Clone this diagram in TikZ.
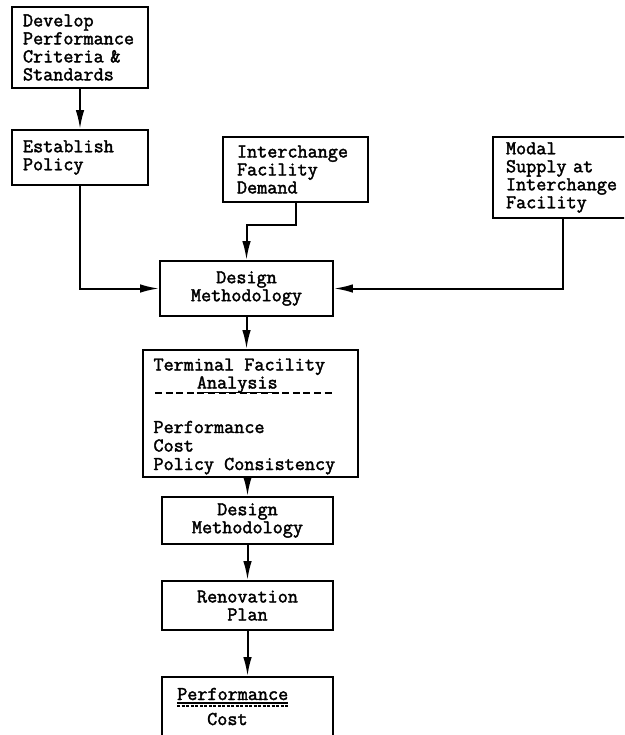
\documentclass[tikz,border=0pt]{standalone}
\usepackage{fontspec}
\setmonofont{Latin Modern Mono}[FakeBold=2]
\usetikzlibrary{arrows.meta}
\begin{document}
\begin{tikzpicture}[x=1pt,y=-1pt,
  box/.style={draw, line width=1.8pt, inner ysep=0pt},
  txt/.style={font=\ttfamily\fontsize{19.6pt}{18pt}\selectfont},
  lbox/.style={box, txt, align=left},
  cbox/.style={box, txt, align=center, inner xsep=0pt},
  line/.style={inner sep=0pt, txt, anchor=base west},
  arr/.style={line width=2pt, -{Latex[length=19pt,width=8.5pt]}},
  dashu/.style={line width=1.2pt, dash pattern=on 7pt off 3.6pt},
]
\clip (0,0) rectangle (624,735);
\fill[white] (0,0) rectangle (624,735);

% left-aligned boxes
\node[lbox, minimum width=136pt, minimum height=81pt, text width=114pt, inner xsep=11pt] (A) at (80,47.5)
  {Develop\\Performance\\Criteria \&\\Standards};
\node[lbox, minimum width=136pt, minimum height=55pt, text width=114pt, inner xsep=11pt] (B) at (80,157.5)
  {Establish\\Policy};
\node[lbox, minimum width=145pt, minimum height=65pt, text width=117pt, inner xsep=14pt] (C) at (295.5,169.5)
  {Interchange\\Facility\\Demand};
\node[lbox, minimum width=140pt, minimum height=81pt, text width=114pt, inner xsep=13pt] (D) at (563,177.5)
  {Modal\\Supply at\\Interchange\\Facility};

% centred boxes
\node[cbox, minimum width=173pt, minimum height=55pt] (DM1) at (246.5,288.5) {Design\\Methodology};
\node[box, minimum width=215pt, minimum height=127pt] (TFA) at (250.5,413.5) {};
\node[cbox, minimum width=171pt, minimum height=47pt] (DM2) at (247.5,520.5) {Design\\Methodology};
\node[cbox, minimum width=171pt, minimum height=49pt] (RP) at (247.5,605.5) {Renovation\\Plan};
\node[box, minimum width=171pt, minimum height=100pt] (PC) at (247.5,727) {};

% text of the analysis box
\node[line] (t1) at (153.3,370.5) {Terminal Facility};
\node[line] (t2) at (196.7,388.5) {Analysis};
\node[line] (t3) at (153.3,433) {Performance};
\node[line] (t4) at (153.3,451.5) {Cost};
\node[line] (t5) at (153.3,470) {Policy Consistency};
\draw[dashu] (155,393) -- (333,393);
\draw[line width=1.2pt] ([yshift=-4pt]t2.base west) -- ([yshift=-4pt]t2.base east);

% text of the last box
\node[line] (p1) at (177,700) {Performance};
\node[line] (p2) at (207,725) {Cost};
\draw[line width=1.2pt] ([yshift=-3pt]p1.base west) -- ([yshift=-3pt]p1.base east);
\draw[dashu, dash pattern=on 3pt off 1.5pt] ([yshift=-6pt]p1.base west) -- ([yshift=-6pt]p1.base east);

% connectors
\coordinate (cbend) at (0,225);
\draw[arr] (A) -- (B);
\draw[arr] (B.south) |- (DM1.west);
\draw[arr] (C.south) |- (DM1.north |- cbend) -- (DM1.north);
\draw[arr] (D.south) |- (DM1.east);
\draw[arr] (DM1.south) -- (DM1.south |- TFA.north);
\draw[arr] (TFA.south -| DM2.north) -- (DM2.north);
\draw[arr] (DM2.south) -- (RP.north);
\draw[arr] (RP.south) -- (PC.north);
\end{tikzpicture}
\end{document}
